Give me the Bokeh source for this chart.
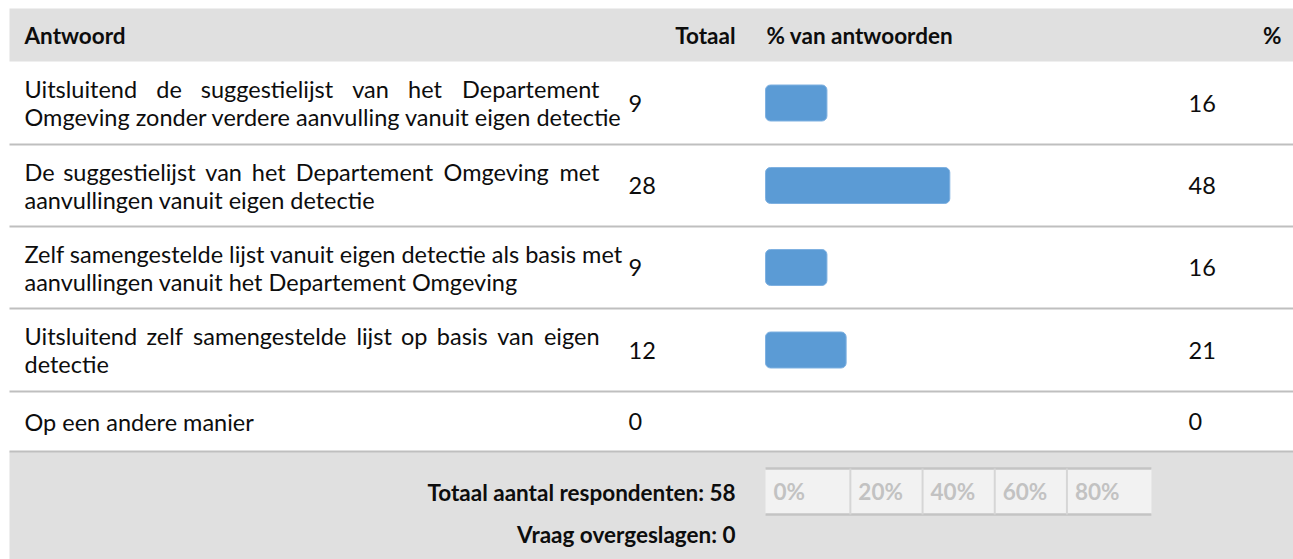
from bokeh.plotting import figure
from bokeh.models import Range1d, ColumnDataSource
from bokeh.embed import file_html
from bokeh.resources import INLINE
from bokeh.core.properties import value

# ---------------- data ----------------
header = ["Antwoord", "Totaal", "% van antwoorden", "%"]
answer_lines = [
    ["Uitsluitend de suggestielijst van het Departement",
     "Omgeving zonder verdere aanvulling vanuit eigen detectie"],
    ["De suggestielijst van het Departement Omgeving met",
     "aanvullingen vanuit eigen detectie"],
    ["Zelf samengestelde lijst vanuit eigen detectie als basis met",
     "aanvullingen vanuit het Departement Omgeving"],
    ["Uitsluitend zelf samengestelde lijst op basis van eigen",
     "detectie"],
    ["Op een andere manier"],
]
totals = [9, 28, 9, 12, 0]
percents = [16, 48, 16, 21, 0]
footer_lines = ["Totaal aantal respondenten: 58", "Vraag overgeslagen: 0"]
axis_ticks = ["0%", "20%", "40%", "60%", "80%"]

# ---------------- layout / style ----------------
FONT = "Lato"
FS = 23.5
FSB = 22.5
TXT = "#0d0d0d"
GRAY = "#e0e0e0"
SEP = "#bfbfbf"
BAR = "#5b9bd5"

W, H = 1293, 559
X0, X1 = 0, 1293
Y0, Y1 = 0, 559
LEFT, RIGHT = 9, 1293
HEAD_TOP, HEAD_BOT = 8, 61
row_heights = [83, 82, 82, 83, 60]
FOOT_BOT = 559
TEXT_L, TEXT_R = 24, 599
TOTAL_X = 628
PCT_X = 1188
BAR0_PX, PX_PER_PCT = 765, 3.84
cell_edges = [0, 22.1, 40.9, 59.7, 78.5, 100.5]

p = figure(width=W, height=H, x_range=Range1d(X0, X1), y_range=Range1d(Y1, Y0),
           output_backend="svg", toolbar_location=None, min_border=0,
           x_axis_type=None, y_axis_type=None, outline_line_color=None)
p.grid.visible = False
p.background_fill_color = "white"
p.border_fill_color = "white"
p.extra_x_ranges = {"pct": Range1d((X0 - BAR0_PX) / PX_PER_PCT, (X1 - BAR0_PX) / PX_PER_PCT)}

# row geometry
tops, bots = [], []
y = HEAD_BOT
for h in row_heights:
    tops.append(y)
    y += h
    bots.append(y)
centers = [(a + b) / 2 for a, b in zip(tops, bots)]
FOOT_TOP = bots[-1]

# header band
p.quad(left=LEFT, right=RIGHT, top=HEAD_TOP, bottom=HEAD_BOT, fill_color=GRAY, line_color=None)
# footer band
p.quad(left=LEFT, right=RIGHT, top=FOOT_TOP, bottom=FOOT_BOT, fill_color=GRAY, line_color=None)
# separators
sep_y = bots
p.segment(x0=[LEFT] * len(sep_y), x1=[RIGHT] * len(sep_y), y0=sep_y, y1=sep_y,
          line_color=SEP, line_width=2)

def hdr(x, y, t, align):
    p.text(x=[x], y=[y], text=[t], text_font=value(FONT), text_font_style="bold",
           text_font_size=f"{FSB}px", text_color=TXT, text_align=align, text_baseline="middle")

HY = 35
hdr(TEXT_L, HY, header[0], "left")
hdr(735, HY, header[1], "right")
hdr(766, HY, header[2], "left")
hdr(1281, HY, header[3], "right")

# approximate Lato advance widths (em) for justification
CW = {'a': .50, 'b': .56, 'c': .46, 'd': .56, 'e': .52, 'f': .32, 'g': .50, 'h': .56,
      'i': .24, 'j': .24, 'k': .50, 'l': .24, 'm': .84, 'n': .56, 'o': .56, 'p': .56,
      'q': .56, 'r': .36, 's': .42, 't': .34, 'u': .56, 'v': .50, 'w': .77, 'x': .49,
      'y': .50, 'z': .45, 'D': .70, 'O': .75, 'U': .67, 'Z': .60}
CAL = 1.025
SPACE = 0.193

def wwidth(wd):
    return sum(CW.get(c, .55) for c in wd) * FS * CAL

wx, wy, wt, wa = [], [], [], []
for i, lines in enumerate(answer_lines):
    n = len(lines)
    ys = [centers[i]] if n == 1 else [centers[i] - 14, centers[i] + 14]
    for j, line in enumerate(lines):
        words = line.split()
        widths = [wwidth(w) for w in words]
        natural = sum(widths) + (len(words) - 1) * SPACE * FS
        if j < n - 1 and natural < TEXT_R - TEXT_L:
            gap = (TEXT_R - TEXT_L - sum(widths)) / (len(words) - 1)
            pos = TEXT_L
            for k, (w, wd) in enumerate(zip(words, widths)):
                if k == 0:
                    wx.append(TEXT_L); wa.append("left")
                elif k == len(words) - 1:
                    wx.append(TEXT_R); wa.append("right")
                else:
                    wx.append(pos + wd / 2); wa.append("center")
                wy.append(ys[j]); wt.append(w)
                pos += wd + gap
        else:
            wx.append(TEXT_L); wy.append(ys[j]); wt.append(line); wa.append("left")

src = ColumnDataSource(dict(x=wx, y=wy, t=wt, a=wa))
p.text(x="x", y="y", text="t", text_align="a", source=src, text_font=value(FONT),
       text_font_size=f"{FS}px", text_color=TXT, text_baseline="middle")

# totals and percentages
p.text(x=[TOTAL_X] * len(totals), y=centers, text=[str(v) for v in totals],
       text_font=value(FONT), text_font_size=f"{FS}px", text_color=TXT,
       text_align="left", text_baseline="middle")
p.text(x=[PCT_X] * len(percents), y=centers, text=[str(v) for v in percents],
       text_font=value(FONT), text_font_size=f"{FS}px", text_color=TXT,
       text_align="left", text_baseline="middle")

# bars
bar_src = ColumnDataSource(dict(y=[c for c, v in zip(centers, percents) if v > 0],
                                right=[v for v in percents if v > 0]))
p.hbar(y="y", height=36, left=0, right="right", source=bar_src, x_range_name="pct",
       fill_color=BAR, line_color="#7fb1e1", line_width=1, border_radius=5)

# footer texts
for k, t in enumerate(footer_lines):
    p.text(x=[735], y=[492 + 42 * k], text=[t], text_font=value(FONT), text_font_style="bold",
           text_font_size=f"{FSB}px", text_color=TXT, text_align="right", text_baseline="middle")

# axis scale box in footer
AX_T, AX_B = 468, 514
p.quad(left=[cell_edges[0]], right=[cell_edges[-1]], top=[AX_T], bottom=[AX_B],
       x_range_name="pct", fill_color="#f2f2f2", line_color=None)
p.segment(x0=[cell_edges[0]] * 2, x1=[cell_edges[-1]] * 2, y0=[AX_T, AX_B], y1=[AX_T, AX_B],
          x_range_name="pct", line_color="#c4c4c4", line_width=2.5)
inner = cell_edges[1:-1]
p.segment(x0=inner, x1=inner, y0=[AX_T] * len(inner), y1=[AX_B] * len(inner),
          x_range_name="pct", line_color="#d6d6d6", line_width=2)
p.text(x=cell_edges[:len(axis_ticks)], y=[491] * len(axis_ticks), text=axis_ticks,
       x_range_name="pct", x_offset=8, text_font=value(FONT), text_font_style="bold",
       text_font_size=f"{FSB}px", text_color="#c2c2c2", text_align="left", text_baseline="middle")

open("out.html", "w").write(file_html(p, INLINE))
